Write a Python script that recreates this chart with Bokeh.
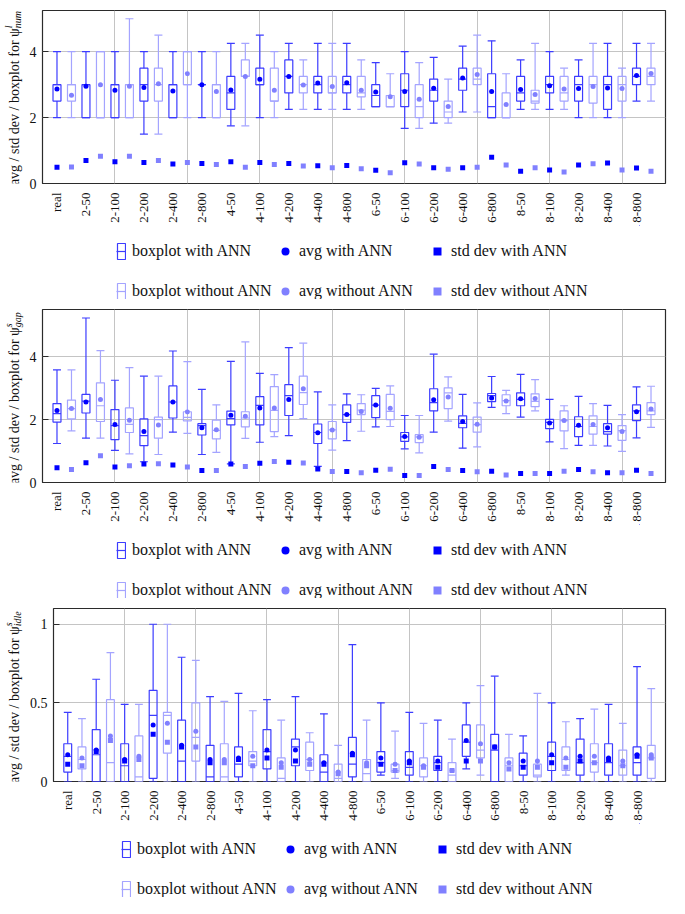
from math import pi
import numpy as np
from bokeh.plotting import figure
from bokeh.layouts import column, row
from bokeh.models import (ColumnDataSource, FixedTicker, Legend, LegendItem,
                          Label, Range1d)
from bokeh.embed import file_html
from bokeh.resources import INLINE

categories = ["real", "2-50", "2-100", "2-200", "2-400", "2-800",
              "4-50", "4-100", "4-200", "4-400", "4-800",
              "6-50", "6-100", "6-200", "6-400", "6-800",
              "8-50", "8-100", "8-200", "8-400", "8-800"]

# ---- panel 1: psi^l_num ----
num_ann_lo = [2.0, 2.0, 2.0, 1.5, 2.0, 2.0, 1.75, 2.0, 2.25, 2.25, 2.25, 2.33, 1.67, 1.83, 2.17, 2.0, 2.25, 2.25, 2.0, 2.0, 2.5]
num_ann_q1 = [2.5, 2.0, 2.0, 2.5, 2.0, 3.0, 2.25, 3.0, 2.75, 2.75, 2.75, 2.33, 2.33, 2.5, 2.83, 2.0, 2.5, 2.75, 2.5, 2.25, 3.0]
num_ann_med = [3.0, 3.0, 3.0, 3.0, 3.0, 3.0, 2.75, 3.0, 3.25, 3.0, 3.0, 2.67, 2.83, 2.83, 3.17, 2.33, 2.75, 3.0, 3.0, 3.0, 3.25]
num_ann_q3 = [3.0, 3.0, 3.0, 3.5, 3.0, 3.0, 3.25, 3.5, 3.75, 3.25, 3.25, 3.0, 3.33, 3.17, 3.5, 3.33, 3.25, 3.25, 3.25, 3.25, 3.5]
num_ann_hi = [4.0, 4.0, 4.0, 4.0, 4.0, 4.0, 4.25, 4.5, 4.25, 4.25, 4.25, 3.67, 4.0, 3.83, 4.17, 4.33, 3.75, 4.0, 3.75, 4.25, 4.25]
num_ann_avg = [2.87, 2.95, 2.83, 2.91, 2.81, 3.0, 2.84, 3.16, 3.25, 3.05, 3.06, 2.78, 2.79, 2.89, 3.2, 2.79, 2.85, 2.97, 2.88, 2.9, 3.28]
num_ann_std = [0.49, 0.70, 0.66, 0.64, 0.59, 0.61, 0.66, 0.64, 0.61, 0.54, 0.55, 0.40, 0.63, 0.48, 0.48, 0.80, 0.37, 0.41, 0.56, 0.62, 0.47]

num_noann_lo = [2.0, 2.0, 2.0, 1.5, 2.0, 2.0, 1.75, 2.0, 2.25, 2.25, 2.25, 2.33, 1.67, 1.83, 2.17, 2.0, 2.25, 2.25, 2.0, 2.0, 2.5]
num_noann_q1 = [2.5, 2.0, 2.0, 2.5, 3.0, 2.0, 3.25, 2.5, 2.75, 2.75, 2.63, 2.33, 2.0, 2.0, 3.0, 2.0, 2.44, 2.5, 2.44, 2.5, 3.0]
num_noann_med = [3.0, 2.0, 3.0, 3.0, 3.0, 3.0, 3.25, 2.5, 3.0, 2.75, 2.75, 2.33, 2.33, 2.17, 3.17, 2.0, 2.5, 2.75, 3.0, 3.0, 3.25]
num_noann_q3 = [3.0, 4.0, 3.0, 3.5, 4.0, 3.0, 3.75, 3.5, 3.25, 3.25, 3.25, 2.67, 3.0, 2.5, 3.5, 2.75, 2.83, 3.25, 3.25, 3.25, 3.5]
num_noann_hi = [4.0, 4.0, 5.0, 4.5, 4.0, 4.0, 4.25, 4.0, 3.75, 4.25, 3.75, 3.33, 3.67, 3.17, 4.5, 3.33, 4.25, 3.5, 4.25, 3.5, 4.25]
num_noann_avg = [2.68, 3.0, 2.95, 3.03, 3.33, 2.79, 3.25, 2.83, 2.99, 2.94, 2.83, 2.63, 2.56, 2.34, 3.31, 2.40, 2.70, 2.87, 2.94, 2.88, 3.34]
num_noann_std = [0.50, 0.83, 0.83, 0.70, 0.64, 0.58, 0.49, 0.58, 0.53, 0.48, 0.45, 0.33, 0.59, 0.43, 0.49, 0.56, 0.48, 0.35, 0.60, 0.41, 0.37]

# ---- panel 2: psi^s_gap ----
gap_ann_lo = [1.24, 1.41, 1.02, 0.66, 1.60, 0.89, 0.59, 1.28, 1.49, 0.51, 1.33, 1.77, 1.07, 1.60, 1.09, 2.39, 2.08, 1.29, 1.18, 1.16, 1.42]
gap_ann_q1 = [1.92, 2.21, 1.36, 1.17, 2.05, 1.51, 1.83, 1.83, 2.13, 1.24, 1.91, 2.06, 1.31, 2.28, 1.74, 2.57, 2.44, 1.71, 1.46, 1.54, 1.97]
gap_ann_med = [2.19, 2.59, 1.81, 1.49, 2.56, 1.81, 2.03, 2.45, 2.76, 1.59, 2.16, 2.46, 1.45, 2.54, 1.88, 2.76, 2.64, 1.91, 1.78, 1.62, 2.28]
gap_ann_q3 = [2.51, 2.80, 2.32, 2.02, 3.07, 1.87, 2.27, 2.73, 3.11, 1.86, 2.47, 2.76, 1.59, 2.98, 2.12, 2.83, 2.85, 2.01, 2.09, 1.87, 2.47]
gap_ann_hi = [3.58, 5.23, 3.25, 3.38, 4.18, 2.96, 3.85, 3.47, 4.29, 2.88, 2.82, 2.99, 2.13, 4.08, 2.80, 3.37, 3.44, 2.64, 2.74, 2.45, 3.04]
gap_ann_avg = [2.29, 2.56, 1.84, 1.62, 2.56, 1.74, 2.14, 2.37, 2.64, 1.58, 2.16, 2.46, 1.46, 2.63, 1.94, 2.69, 2.66, 1.89, 1.82, 1.74, 2.25]
gap_ann_std = [0.47, 0.63, 0.49, 0.59, 0.56, 0.38, 0.59, 0.61, 0.64, 0.43, 0.35, 0.39, 0.22, 0.51, 0.38, 0.36, 0.29, 0.29, 0.41, 0.31, 0.39]

gap_noann_lo = [1.64, 1.41, 0.91, 0.89, 1.56, 0.96, 1.40, 1.46, 2.03, 1.03, 1.63, 1.78, 0.94, 1.95, 1.13, 2.19, 2.28, 1.08, 1.18, 0.99, 1.75]
gap_noann_q1 = [2.02, 1.94, 1.59, 1.41, 1.96, 1.39, 1.77, 1.62, 2.48, 1.39, 2.16, 2.0, 1.27, 2.35, 1.60, 2.44, 2.41, 1.64, 1.54, 1.34, 2.16]
gap_noann_med = [2.35, 2.44, 1.85, 2.0, 2.07, 1.66, 2.05, 2.29, 2.86, 1.67, 2.30, 2.26, 1.45, 2.85, 1.84, 2.60, 2.58, 1.97, 1.78, 1.65, 2.28]
gap_noann_q3 = [2.62, 3.17, 2.37, 2.08, 2.25, 1.98, 2.25, 3.05, 3.38, 1.94, 2.51, 2.80, 1.52, 3.01, 2.08, 2.79, 2.82, 2.28, 2.12, 1.81, 2.54]
gap_noann_hi = [3.58, 4.19, 3.65, 3.38, 3.84, 2.47, 4.47, 3.43, 4.43, 2.47, 2.79, 3.07, 2.13, 3.36, 2.53, 2.93, 3.27, 2.44, 2.51, 2.16, 3.06]
gap_noann_avg = [2.35, 2.64, 1.98, 1.83, 2.24, 1.68, 2.11, 2.37, 2.98, 1.67, 2.26, 2.36, 1.44, 2.72, 1.85, 2.59, 2.67, 1.97, 1.84, 1.62, 2.34]
gap_noann_std = [0.41, 0.85, 0.53, 0.60, 0.49, 0.38, 0.51, 0.67, 0.62, 0.35, 0.31, 0.42, 0.22, 0.41, 0.34, 0.24, 0.29, 0.36, 0.34, 0.31, 0.29]

# ---- panel 3: psi^s_idle ----
idle_ann_lo = [0, 0, 0, 0, 0, 0, 0, 0, 0, 0, 0, 0.04, 0, 0, 0.08, 0, 0, 0, 0, 0, 0]
idle_ann_q1 = [0.06, 0, 0, 0.02, 0, 0, 0.03, 0.08, 0.10, 0, 0.03, 0.06, 0.04, 0.07, 0.16, 0, 0.04, 0.07, 0.04, 0.04, 0.04]
idle_ann_med = [0.16, 0.17, 0.10, 0.42, 0.13, 0.03, 0.11, 0.19, 0.22, 0.06, 0.11, 0.12, 0.09, 0.12, 0.25, 0.20, 0.10, 0.16, 0.12, 0.12, 0.12]
idle_ann_q3 = [0.24, 0.33, 0.24, 0.58, 0.39, 0.23, 0.22, 0.33, 0.27, 0.17, 0.28, 0.19, 0.19, 0.16, 0.36, 0.30, 0.18, 0.25, 0.27, 0.24, 0.22]
idle_ann_hi = [0.44, 0.65, 0.49, 1.0, 0.79, 0.54, 0.56, 0.52, 0.54, 0.43, 0.87, 0.50, 0.44, 0.39, 0.50, 0.67, 0.29, 0.50, 0.40, 0.49, 0.73]
idle_ann_avg = [0.17, 0.20, 0.14, 0.36, 0.23, 0.14, 0.15, 0.20, 0.20, 0.12, 0.18, 0.15, 0.13, 0.13, 0.26, 0.22, 0.13, 0.17, 0.16, 0.15, 0.17]
idle_ann_std = [0.11, 0.19, 0.13, 0.30, 0.22, 0.12, 0.14, 0.15, 0.13, 0.11, 0.17, 0.11, 0.12, 0.09, 0.13, 0.22, 0.09, 0.12, 0.13, 0.14, 0.16]

idle_noann_lo = [0, 0, 0, 0, 0, 0, 0, 0, 0, 0, 0, 0.02, 0, 0, 0.04, 0, 0, 0.04, 0, 0, 0]
idle_noann_q1 = [0.08, 0, 0, 0.18, 0.13, 0, 0.10, 0, 0.07, 0, 0, 0.06, 0.03, 0, 0.15, 0, 0.03, 0.07, 0.06, 0.04, 0.02]
idle_noann_med = [0.14, 0.12, 0.03, 0.42, 0.28, 0.03, 0.13, 0.02, 0.14, 0.02, 0.05, 0.07, 0.10, 0.04, 0.20, 0.10, 0.04, 0.14, 0.12, 0.10, 0.15]
idle_noann_q3 = [0.22, 0.52, 0.29, 0.44, 0.50, 0.24, 0.19, 0.15, 0.25, 0.11, 0.14, 0.11, 0.15, 0.12, 0.36, 0.15, 0.11, 0.22, 0.24, 0.20, 0.23]
idle_noann_hi = [0.40, 0.82, 0.49, 1.0, 0.77, 0.51, 0.45, 0.39, 0.31, 0.23, 0.39, 0.32, 0.37, 0.27, 0.61, 0.30, 0.56, 0.38, 0.46, 0.37, 0.59]
idle_noann_avg = [0.15, 0.29, 0.16, 0.37, 0.32, 0.14, 0.16, 0.12, 0.14, 0.06, 0.12, 0.11, 0.10, 0.07, 0.24, 0.12, 0.13, 0.15, 0.16, 0.13, 0.17]
idle_noann_std = [0.10, 0.26, 0.14, 0.25, 0.22, 0.12, 0.10, 0.09, 0.11, 0.05, 0.10, 0.07, 0.09, 0.07, 0.13, 0.08, 0.09, 0.09, 0.12, 0.10, 0.15]

FONT = "Liberation Serif"
DARK_LINE = "#3c3cff"
LIGHT_LINE = "#a4a4ff"
DARK_MARK = "#0000ff"
LIGHT_MARK = "#8080ff"
TEXT = "#111111"
BW = 0.55

LABEL_W = 26        # width of the y-label strip
MAIN_H = 225        # main plot height
TOP = 10            # top border of main plot
FRAME_H = 173
LEG_H = 74          # legend strip height
LEG_W = 640         # legend strip width


def make_source(offset, lo, q1, med, q3, hi, avg, std):
    x = np.arange(len(categories)) * 2 + offset
    return ColumnDataSource(dict(x=x, xl=x - BW / 2, xr=x + BW / 2, lo=lo, q1=q1,
                                 med=med, q3=q3, hi=hi, avg=avg, std=std))


def draw_series(p, src, lc, mc):
    kw = dict(source=src, line_color=lc, line_width=1.2)
    box = p.vbar(x="x", width=BW, bottom="q1", top="q3", fill_color=None, **kw)
    med = p.segment(x0="xl", y0="med", x1="xr", y1="med", **kw)
    p.segment(x0="x", y0="q3", x1="x", y1="hi", **kw)
    p.segment(x0="x", y0="lo", x1="x", y1="q1", **kw)
    p.segment(x0="xl", y0="hi", x1="xr", y1="hi", **kw)
    p.segment(x0="xl", y0="lo", x1="xr", y1="lo", **kw)
    avg = p.scatter(x="x", y="avg", marker="circle", size=5, fill_color=mc,
                    line_color=None, source=src)
    sd = p.scatter(x="x", y="std", marker="square", size=5, fill_color=mc,
                   line_color=None, source=src)
    return box, med, avg, sd


def blank(width, height, xr, yr):
    f = figure(width=width, height=height, x_range=Range1d(*xr), y_range=Range1d(*yr),
               x_axis_type=None, y_axis_type=None, output_backend="svg",
               toolbar_location=None, min_border=0)
    f.outline_line_color = None
    f.xgrid.visible = False
    f.ygrid.visible = False
    return f


def make_main(ann, noann, ymax, yticks, ylabels, left):
    p = figure(width=669 - LABEL_W, height=MAIN_H, x_range=Range1d(0, 43),
               y_range=Range1d(0, ymax), output_backend="svg", toolbar_location=None,
               min_border_left=left, min_border_right=4, min_border_top=TOP,
               min_border_bottom=MAIN_H - TOP - FRAME_H)
    p.outline_line_color = "#2b2b2b"
    p.outline_line_width = 1.2

    xt = list(range(1, 2 * len(categories), 2))
    p.xaxis.ticker = FixedTicker(ticks=xt)
    p.xaxis.major_label_overrides = {t: c for t, c in zip(xt, categories)}
    p.xaxis.major_label_orientation = pi / 2
    p.xaxis.major_label_text_font = FONT
    p.xaxis.major_label_text_font_size = "13px"
    p.xaxis.major_label_text_color = TEXT
    p.xaxis.major_label_standoff = 3
    p.xaxis.major_tick_line_color = None
    p.xaxis.minor_tick_line_color = None
    p.xaxis.axis_line_color = None

    p.yaxis.ticker = FixedTicker(ticks=yticks)
    p.yaxis.major_label_overrides = {t: s for t, s in zip(yticks, ylabels)}
    p.yaxis.major_label_text_font = FONT
    p.yaxis.major_label_text_font_size = "14px"
    p.yaxis.major_label_text_color = TEXT
    p.yaxis.major_label_standoff = 6
    p.yaxis.major_tick_in = 6
    p.yaxis.major_tick_out = 0
    p.yaxis.major_tick_line_color = "#2b2b2b"
    p.yaxis.minor_tick_line_color = None
    p.yaxis.axis_line_color = None

    p.xgrid.ticker = FixedTicker(ticks=[5, 10, 15, 20, 25, 30, 35, 40])
    p.ygrid.ticker = FixedTicker(ticks=yticks)
    p.xgrid.grid_line_color = "#c4c4c4"
    p.ygrid.grid_line_color = "#c4c4c4"

    s_ann = make_source(1, *ann)
    s_no = make_source(2, *noann)
    draw_series(p, s_ann, DARK_LINE, DARK_MARK)
    draw_series(p, s_no, LIGHT_LINE, LIGHT_MARK)
    return p, s_ann, s_no


def make_ylabel(sup, sub):
    f = blank(LABEL_W, MAIN_H, (0, LABEL_W), (0, MAIN_H))
    yend = MAIN_H - 23
    base = dict(y=yend, angle=pi / 2, text_baseline="alphabetic", text_font=FONT,
                text_color=TEXT)
    f.add_layout(Label(x=14, text="avg / std dev / boxplot for ψ", text_align="right",
                       text_font_size="14px", **base))
    f.add_layout(Label(x=8, text=sup, text_align="left", text_font_size="10px",
                       text_font_style="italic", **base))
    f.add_layout(Label(x=17, text=sub, text_align="left", text_font_size="10px",
                       text_font_style="italic", **base))
    return f


def make_legend(s_ann, s_no, shift):
    # legend strip: renderers share the panel's data but sit outside this strip's view
    f = blank(LEG_W, LEG_H, (-3, -2), (-3, -2))
    b1, m1, a1, d1 = draw_series(f, s_ann, DARK_LINE, DARK_MARK)
    b2, m2, a2, d2 = draw_series(f, s_no, LIGHT_LINE, LIGHT_MARK)

    common = dict(orientation="vertical", padding=0, margin=0, spacing=20,
                  border_line_color=None, background_fill_alpha=0,
                  label_text_font=FONT, label_text_font_size="16px",
                  label_text_color=TEXT, label_height=20, glyph_height=20)
    vy = -2
    legs = [
        Legend(items=[LegendItem(label="boxplot with ANN", renderers=[b1, m1]),
                      LegendItem(label="boxplot without ANN", renderers=[b2, m2])],
               location=(116 + shift, vy), glyph_width=10, label_standoff=6, **common),
        Legend(items=[LegendItem(label="avg with ANN", renderers=[a1]),
                      LegendItem(label="avg without ANN", renderers=[a2])],
               location=(275 + shift, vy), glyph_width=20, label_standoff=4, **common),
        Legend(items=[LegendItem(label="std dev with ANN", renderers=[d1]),
                      LegendItem(label="std dev without ANN", renderers=[d2])],
               location=(427 + shift, vy), glyph_width=20, label_standoff=4, **common),
    ]
    for lg in legs:
        f.add_layout(lg)
    return f


p1, s1a, s1b = make_main((num_ann_lo, num_ann_q1, num_ann_med, num_ann_q3, num_ann_hi, num_ann_avg, num_ann_std),
                         (num_noann_lo, num_noann_q1, num_noann_med, num_noann_q3, num_noann_hi, num_noann_avg, num_noann_std),
                         5.25, [0, 2, 4], ["0", "2", "4"], 10)
p2, s2a, s2b = make_main((gap_ann_lo, gap_ann_q1, gap_ann_med, gap_ann_q3, gap_ann_hi, gap_ann_avg, gap_ann_std),
                         (gap_noann_lo, gap_noann_q1, gap_noann_med, gap_noann_q3, gap_noann_hi, gap_noann_avg, gap_noann_std),
                         5.5, [0, 2, 4], ["0", "2", "4"], 10)
p3, s3a, s3b = make_main((idle_ann_lo, idle_ann_q1, idle_ann_med, idle_ann_q3, idle_ann_hi, idle_ann_avg, idle_ann_std),
                         (idle_noann_lo, idle_noann_q1, idle_noann_med, idle_noann_q3, idle_noann_hi, idle_noann_avg, idle_noann_std),
                         1.1, [0, 0.5, 1], ["0", "0.5", "1"], 15)

layout = column(
    row(make_ylabel("l", "num"), p1, spacing=0), make_legend(s1a, s1b, 0),
    row(make_ylabel("s", "gap"), p2, spacing=0), make_legend(s2a, s2b, 0),
    row(make_ylabel("s", "idle"), p3, spacing=0), make_legend(s3a, s3b, 5),
    spacing=0)
open("out.html", "w").write(file_html(layout, INLINE))
